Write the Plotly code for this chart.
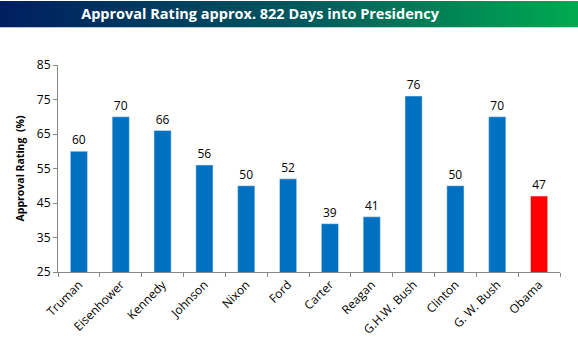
import base64
import plotly.graph_objects as go

presidents = ["Truman", "Eisenhower", "Kennedy", "Johnson", "Nixon", "Ford", "Carter",
              "Reagan", "G.H.W. Bush", "Clinton", "G. W. Bush", "Obama"]
approval = [60, 70, 66, 56, 50, 52, 39, 41, 76, 50, 70, 47]
bar_colors = ["#0070C0"] * 11 + ["#FF0000"]
y_ticks = [25, 35, 45, 55, 65, 75, 85]

svg = ('<svg xmlns="http://www.w3.org/2000/svg" width="578" height="27" preserveAspectRatio="none">'
       '<defs><linearGradient id="g" x1="0" y1="0" x2="1" y2="0">'
       '<stop offset="0" stop-color="#001E60"/><stop offset="0.5" stop-color="#00555E"/>'
       '<stop offset="1" stop-color="#00AA50"/></linearGradient></defs>'
       '<rect width="578" height="27" fill="url(#g)"/></svg>')
src = "data:image/svg+xml;base64," + base64.b64encode(svg.encode()).decode()

fig = go.Figure()
fig.add_trace(go.Bar(
    x=presidents, y=approval, marker_color=bar_colors,
    text=[str(v) for v in approval], textposition="outside",
    textfont=dict(family="Open Sans", size=12, color="black"),
    cliponaxis=False, width=0.41,
))

fig.update_layout(
    width=578, height=350,
    margin=dict(l=58, r=18, t=65, b=75),
    paper_bgcolor="white", plot_bgcolor="white",
    showlegend=False,
    images=[dict(source=src, xref="paper", yref="paper",
                 x=-58/502, y=(275)/210, sizex=578/502, sizey=27/210,
                 xanchor="left", yanchor="top", sizing="stretch", layer="below")],
    title=dict(text="<b>Approval Rating approx. 822 Days into Presidency</b>",
               x=0.45, xanchor="center", y=1 - 13.5/350, yanchor="middle",
               font=dict(family="Open Sans", size=14.5, color="white")),
    yaxis=dict(range=[25, 85], tickvals=y_ticks, showgrid=False,
               showline=True, linecolor="#888888", linewidth=1,
               ticks="outside", ticklen=4, tickcolor="#888888",
               tickfont=dict(family="Open Sans", size=12, color="black"),
               title=dict(text="<b>Approval Rating  (%)</b>", standoff=10,
                          font=dict(family="Open Sans", size=10.5, color="black"))),
    xaxis=dict(showline=True, linecolor="#888888", linewidth=1,
               ticks="outside", ticklen=4, tickcolor="#888888", tickson="boundaries",
               tickangle=-45,
               tickfont=dict(family="Open Sans", size=12, color="black")),
)
fig.write_html("out.html")
